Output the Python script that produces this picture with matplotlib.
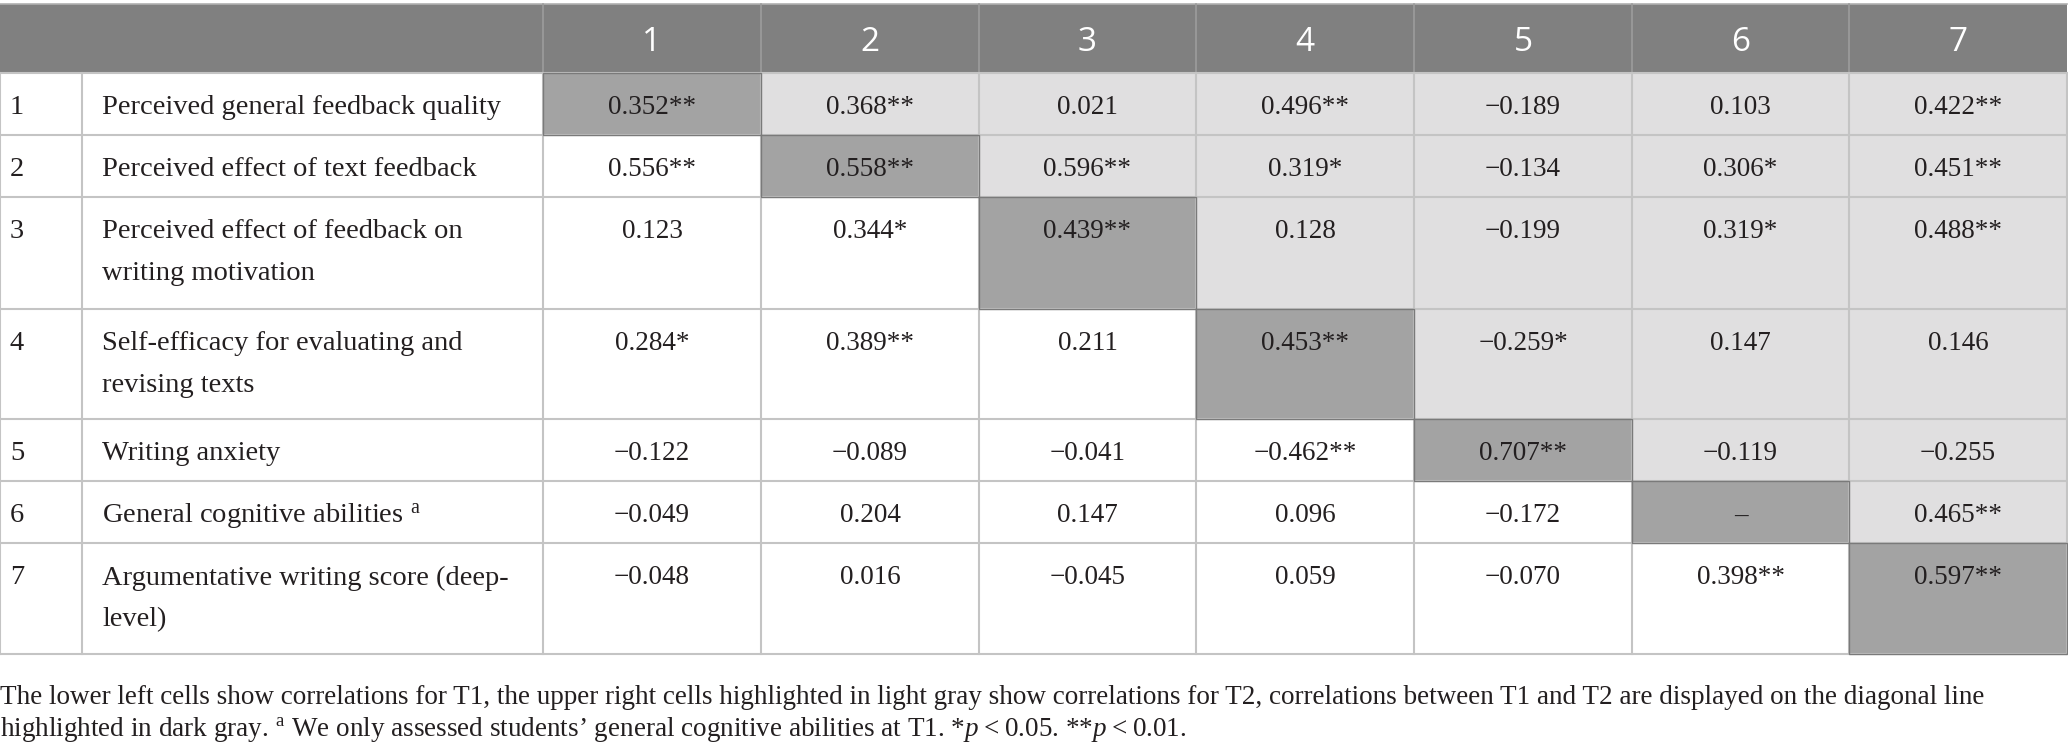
import matplotlib.pyplot as plt
from matplotlib.patches import Rectangle

plt.rcParams['mathtext.fontset'] = 'custom'
plt.rcParams['mathtext.rm'] = 'Liberation Serif'
plt.rcParams['mathtext.it'] = 'Liberation Serif:italic'

# --- table data ---
col_heads = ['1', '2', '3', '4', '5', '6', '7']
labels = [
    ['Perceived general feedback quality'],
    ['Perceived effect of text feedback'],
    ['Perceived effect of feedback on', 'writing motivation'],
    ['Self-efficacy for evaluating and', 'revising texts'],
    ['Writing anxiety'],
    ['General cognitive abilities $^{\\mathrm{a}}$'],
    ['Argumentative writing score (deep-', 'level)'],
]
# correlations between T1 and T2 (diagonal), None = not assessed
diag_r = [0.352, 0.558, 0.439, 0.453, 0.707, None, 0.597]
diag_sig = [2, 2, 2, 2, 2, 0, 2]
# T2, upper right, row by row
upper_r = [
    [0.368, 0.021, 0.496, -0.189, 0.103, 0.422],
    [0.596, 0.319, -0.134, 0.306, 0.451],
    [0.128, -0.199, 0.319, 0.488],
    [-0.259, 0.147, 0.146],
    [-0.119, -0.255],
    [0.465],
]
upper_sig = [
    [2, 0, 2, 0, 0, 2],
    [2, 1, 0, 1, 2],
    [0, 0, 1, 2],
    [1, 0, 0],
    [0, 0],
    [2],
]
# T1, lower left, row by row (rows 2..7)
lower_r = [
    [0.556],
    [0.123, 0.344],
    [0.284, 0.389, 0.211],
    [-0.122, -0.089, -0.041, -0.462],
    [-0.049, 0.204, 0.147, 0.096, -0.172],
    [-0.048, 0.016, -0.045, 0.059, -0.070, 0.398],
]
lower_sig = [
    [2],
    [0, 1],
    [1, 2, 0],
    [0, 0, 0, 2],
    [0, 0, 0, 0, 0],
    [0, 0, 0, 0, 0, 2],
]

note1 = ('The lower left cells show correlations for T1, the upper right cells highlighted in light gray '
         'show correlations for T2, correlations between T1 and T2 are displayed on the diagonal line')
note2 = ('highlighted in dark gray. $^{\\mathrm{a}}$ We only assessed students\u2019 general cognitive abilities '
         'at T1. *$\\it{p}$\u2009<\u20090.05. **$\\it{p}$\u2009<\u20090.01.')


def fmt(r, sig):
    if r is None:
        return '\u2013'
    s = f'{r:.3f}'.replace('-', '\u2212')
    return s + '*' * sig


# layout in pixels
col_x = [0, 82, 543, 761, 979, 1196, 1414, 1632, 1849, 2067]
row_y = [4, 73, 135, 197, 309, 419, 481, 543, 654]

HEAD = '#808080'
DARK = '#a3a3a3'
LIGHT = '#e0dfe0'
GRID = '#c4c4c4'
INK = '#231f20'
serif = 'Liberation Serif'
fs = 20.5
fs_num = 19.5

fig = plt.figure(figsize=(20.68, 7.47), dpi=100)
ax = fig.add_axes([0, 0, 1, 1])
ax.set_xlim(0, 2068)
ax.set_ylim(747, 0)
ax.axis('off')

# header
ax.add_patch(Rectangle((col_x[0], row_y[0]), col_x[-1] - col_x[0], row_y[1] - row_y[0],
                       facecolor=HEAD, edgecolor='none'))
ax.plot([col_x[0], col_x[-1]], [row_y[0], row_y[0]], color='#b0b0b0', lw=1.2)
for j, h in enumerate(col_heads):
    xc = (col_x[j + 2] + col_x[j + 3]) / 2
    ax.text(xc, (row_y[0] + row_y[1]) / 2 + 4, h, ha='center', va='center',
            color='white', fontsize=24, family='Open Sans')
    ax.plot([col_x[j + 2]] * 2, [row_y[0], row_y[1]], color='#9c9c9c', lw=1.2)

# body cells
dark_cells = []
for i in range(7):
    y0, y1 = row_y[i + 1], row_y[i + 2]
    ty = y0 + 35
    ax.text(10, ty, str(i + 1), ha='left', va='center', fontsize=fs, family=serif, color=INK)
    for k, line in enumerate(labels[i]):
        ax.text(102, ty + 42 * k, line, ha='left', va='center', fontsize=fs, family=serif, color=INK)
    for j in range(7):
        x0, x1 = col_x[j + 2], col_x[j + 3]
        if j == i:
            fc, txt = DARK, fmt(diag_r[i], diag_sig[i])
            dark_cells.append((x0, y0, x1 - x0, y1 - y0))
        elif j > i:
            fc, txt = LIGHT, fmt(upper_r[i][j - i - 1], upper_sig[i][j - i - 1])
        else:
            fc, txt = 'white', fmt(lower_r[i - 1][j], lower_sig[i - 1][j])
        ax.add_patch(Rectangle((x0, y0), x1 - x0, y1 - y0, facecolor=fc, edgecolor='none'))
        ax.text((x0 + x1) / 2, ty, txt, ha='center', va='center', fontsize=fs_num,
                family=serif, color=INK)

# grid lines
for y in row_y[1:]:
    ax.plot([col_x[0], col_x[-1]], [y, y], color=GRID, lw=1.5)
for x in col_x:
    ax.plot([x, x], [row_y[1], row_y[-1]], color=GRID, lw=1.5)
# darker rim around the diagonal cells
for (x0, y0, w, h) in dark_cells:
    ax.add_patch(Rectangle((x0, y0), w, h, facecolor='none', edgecolor='#7a7a7a', lw=1.0, zorder=3))

# footnote
ax.text(0, 698, note1, ha='left', va='center', fontsize=19.5, family=serif, color=INK)
ax.text(0, 730, note2, ha='left', va='center', fontsize=19.5, family=serif, color=INK)

fig.savefig('out.png', dpi=100)
